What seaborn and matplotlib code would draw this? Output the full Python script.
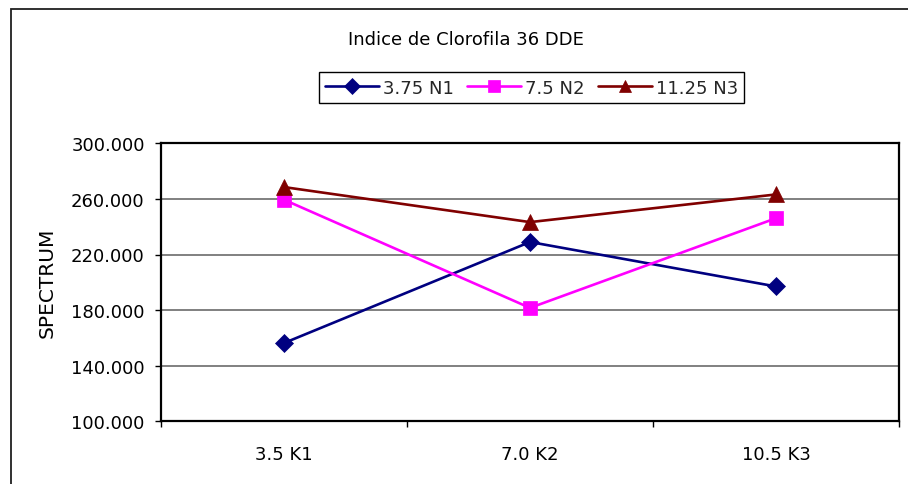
import matplotlib
matplotlib.use('Agg')
import matplotlib.pyplot as plt
import seaborn as sns
import pandas as pd
import numpy as np
from matplotlib.patches import Rectangle

# ---- data ----
categories = ['3.5 K1', '7.0 K2', '10.5 K3']
series_names = ['3.75 N1', '7.5 N2', '11.25 N3']
n1_values = [156.3, 229.0, 197.0]
n2_values = [259.4, 181.6, 246.1]
n3_values = [268.5, 243.3, 263.2]
y_ticks = [100, 140, 180, 220, 260, 300]
y_tick_labels = ['100.000', '140.000', '180.000', '220.000', '260.000', '300.000']
title = 'Indice de Clorofila 36 DDE'
y_label = 'SPECTRUM'

# ---- styles ----
colors = ['#000080', '#FF00FF', '#800000']
markers = ['D', 's', '^']
msizes = [9.5, 10.5, 11]

sns.set_theme(style='white')
plt.rcParams['font.family'] = ['DejaVu Sans']

positions = list(range(len(categories)))
all_values = [n1_values, n2_values, n3_values]
df = pd.DataFrame({
    'pos': positions * len(series_names),
    'series': [s for s in series_names for _ in categories],
    'value': [v for vals in all_values for v in vals],
})

fig = plt.figure(figsize=(9.08, 4.85), dpi=100)
ax = fig.add_axes([161 / 908, 1 - 422.3 / 485, 738 / 908, 278 / 485])

for name, c, m, ms in zip(series_names, colors, markers, msizes):
    sub = df[df['series'] == name]
    sns.lineplot(data=sub, x='pos', y='value', color=c, marker=m,
                 markersize=ms, markeredgecolor=c, markeredgewidth=0.5,
                 linewidth=1.9, label=name, ax=ax)

if ax.get_legend() is not None:
    ax.get_legend().remove()

# axes limits / ticks
ax.set_xlim(-0.5, len(categories) - 0.5)
ax.set_ylim(y_ticks[0], y_ticks[-1])
ax.set_xticks(np.arange(-0.5, len(categories), 1.0))
ax.set_xticklabels([])
ax.set_xticks(positions, minor=True)
ax.set_xticklabels(categories, minor=True)
ax.set_yticks(y_ticks)
ax.set_yticklabels(y_tick_labels)
ax.tick_params(axis='both', which='major', bottom=True, left=True,
               direction='out', length=4.5, width=1.0, color='black',
               labelsize=13, labelcolor='black')
ax.tick_params(axis='y', which='major', pad=7.2)
ax.tick_params(axis='x', which='minor', bottom=True, length=0, pad=17,
               labelsize=13, labelcolor='black')

ax.set_xlabel('')
ax.set_ylabel(y_label, fontsize=14.5, color='black', va='center')
ax.yaxis.set_label_coords((47 - 161) / 738, 0.5)

ax.yaxis.grid(True, color='#5e5e5e', linewidth=1.1)
ax.xaxis.grid(False)
ax.set_axisbelow(True)
for sp in ax.spines.values():
    sp.set_visible(True)
    sp.set_color('black')
    sp.set_linewidth(1.6)

# title
fig.text(465.5 / 908, 1 - 45 / 485, title, ha='center', va='baseline',
         fontsize=13, color='black')

# legend
handles, labels = ax.get_legend_handles_labels()
leg = fig.legend(handles, labels, loc='center',
                 bbox_to_anchor=(531.5 / 908, 1 - 88.5 / 485), ncol=3,
                 fontsize=13, frameon=True, fancybox=False, edgecolor='black',
                 framealpha=1, handlelength=3.0, handletextpad=0.2,
                 columnspacing=0.75, borderpad=0.35, borderaxespad=0,
                 markerscale=0.85)
leg.get_frame().set_linewidth(1.0)

# outer chart-area border (cropped at right and bottom)
fig.add_artist(Rectangle((11 / 908, -0.5), 2.0, 0.5 + (1 - 10 / 485),
                         transform=fig.transFigure, fill=False,
                         edgecolor='#202020', linewidth=1.3))

fig.savefig('out.png', dpi=100)
